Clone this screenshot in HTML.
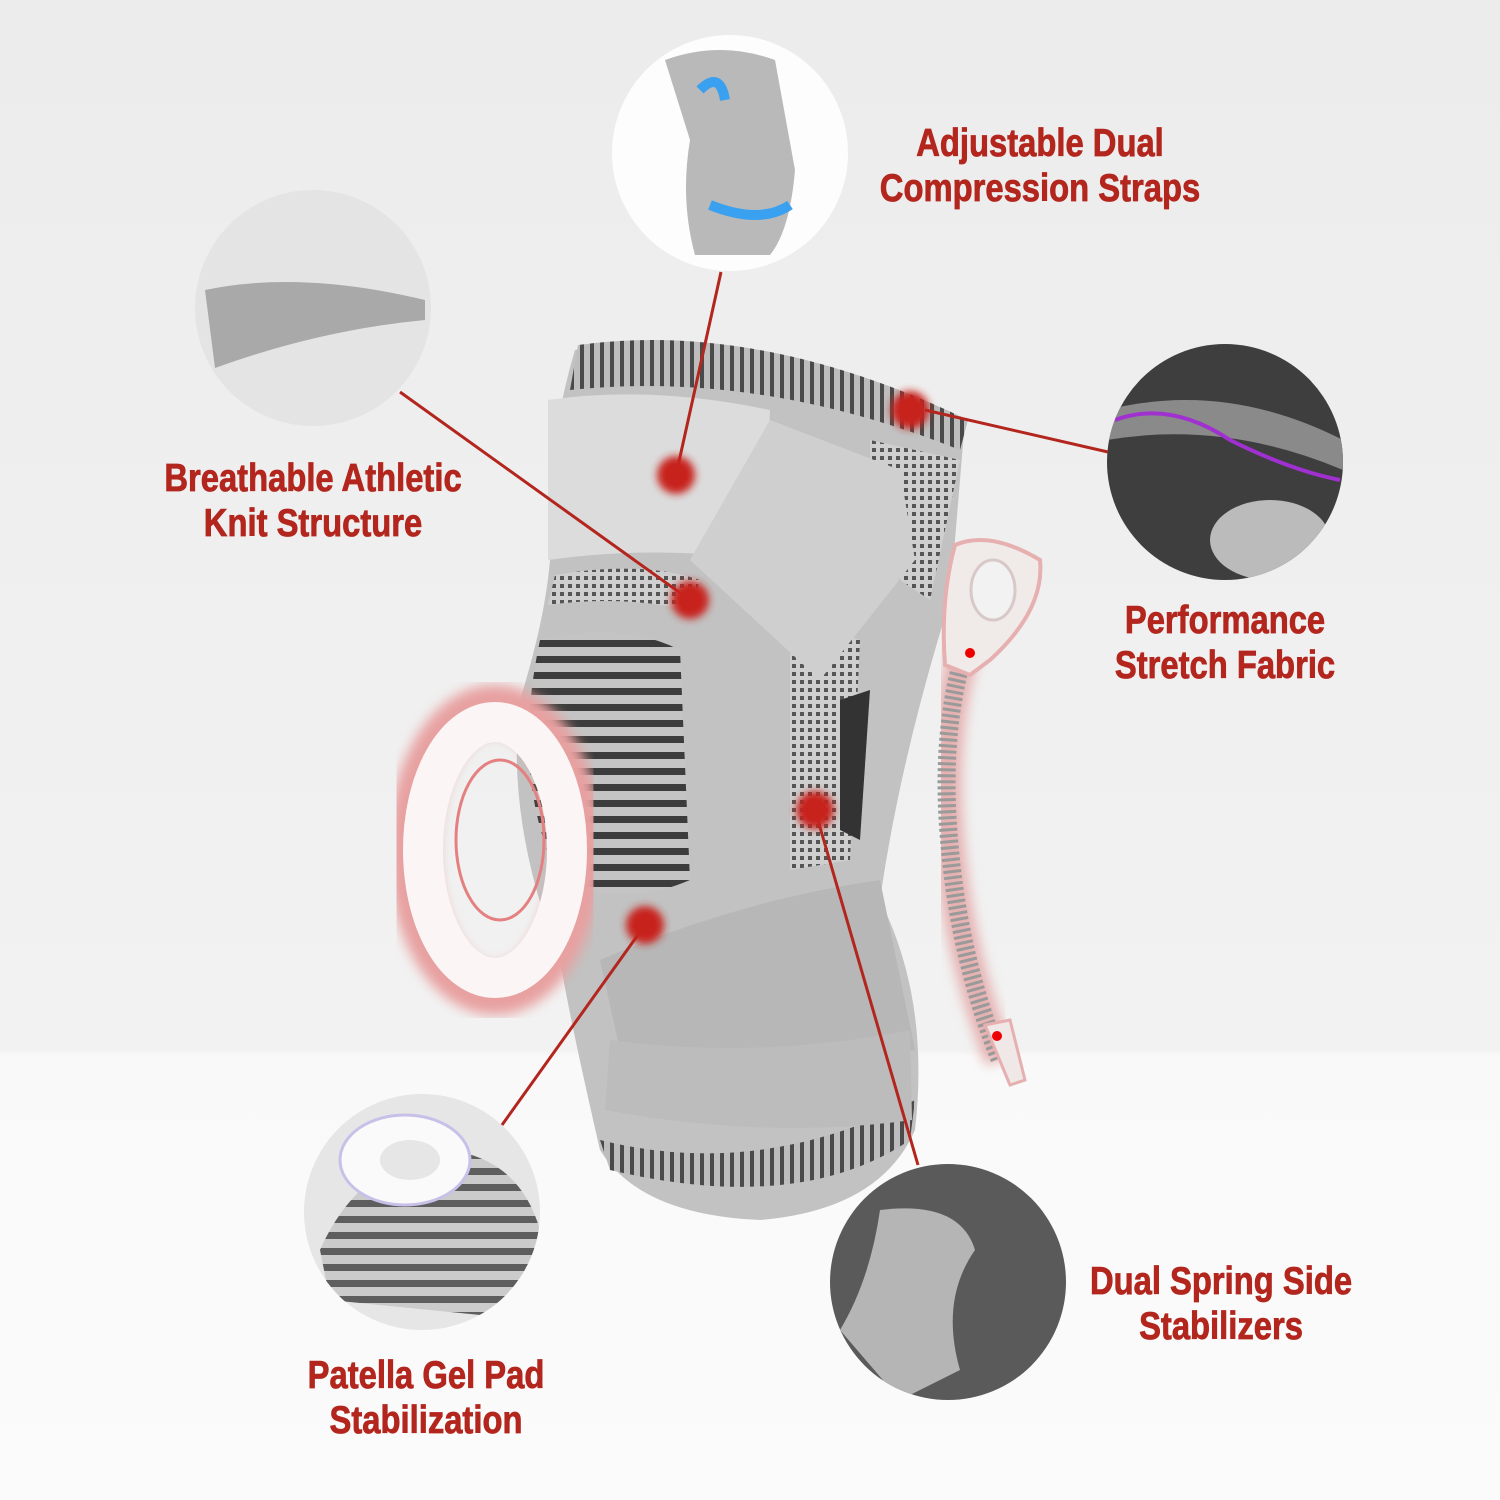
<!DOCTYPE html>
<html><head><meta charset="utf-8"><style>
html,body{margin:0;padding:0;}
body{width:1500px;height:1500px;position:relative;overflow:hidden;background:linear-gradient(#ececec 0,#f2f2f2 1050px,#f9f9f9 1056px,#fbfbfb 1500px);font-family:"Liberation Sans",sans-serif;}
.t{position:absolute;color:#b3261e;font-weight:bold;font-size:39px;line-height:45px;text-align:center;transform:translateX(-50%) scaleX(0.84);white-space:nowrap;-webkit-text-stroke:0.8px #b3261e;}
svg{position:absolute;left:0;top:0;}
</style></head><body>
<svg width="1500" height="1500" viewBox="0 0 1500 1500">
<defs>
<filter id="b"><feGaussianBlur stdDeviation="4"/></filter>
<filter id="g"><feGaussianBlur stdDeviation="6"/></filter>
<pattern id="st" width="10" height="14" patternUnits="userSpaceOnUse"><rect width="10" height="14" fill="#bdbdbd"/><rect width="4" height="14" fill="#4a4a4a"/></pattern>
<pattern id="hz" width="20" height="16" patternUnits="userSpaceOnUse"><rect width="20" height="16" fill="#c4c4c4"/><rect width="20" height="7" fill="#3c3c3c"/></pattern>
<pattern id="ck" width="8" height="8" patternUnits="userSpaceOnUse"><rect width="8" height="8" fill="#cfcfcf"/><rect width="4" height="4" fill="#555"/></pattern>
<clipPath id="c1"><circle cx="730" cy="153" r="118"/></clipPath>
<clipPath id="c2"><circle cx="313" cy="308" r="118"/></clipPath>
<clipPath id="c3"><circle cx="1225" cy="462" r="118"/></clipPath>
<clipPath id="c4"><circle cx="422" cy="1212" r="118"/></clipPath>
<clipPath id="c5"><circle cx="948" cy="1282" r="118"/></clipPath>
</defs>
<path d="M575,350 Q760,320 965,420 L950,600 Q900,760 880,900 Q930,1000 915,1130 Q880,1210 760,1220 Q640,1215 600,1150 Q570,1020 560,960 Q505,820 520,700 Q545,620 550,560 Q545,450 575,350Z" fill="#c2c2c2"/>
<path d="M578,345 Q760,320 968,420 L960,450 Q760,370 570,390Z" fill="url(#st)"/>
<path d="M600,1140 Q760,1180 915,1100 L910,1140 Q800,1215 610,1170Z" fill="url(#st)"/>
<path d="M548,400 Q650,385 770,410 L765,560 Q650,545 548,560Z" fill="#dcdcdc"/>
<path d="M555,575 Q640,560 700,580 L690,610 Q620,595 548,605Z" fill="url(#ck)"/>
<path d="M870,440 L960,460 L930,600 L870,560Z" fill="url(#ck)"/>
<path d="M790,620 L860,640 L850,860 L790,870Z" fill="url(#ck)"/>
<path d="M840,700 L870,690 L860,840 L840,830Z" fill="#333"/>
<path d="M540,640 Q620,620 680,650 L690,880 Q620,910 560,880 Q510,780 540,640Z" fill="url(#hz)"/>
<path d="M690,560 L770,420 L900,470 L915,560 L820,680Z" fill="#cfcfcf"/>
<path d="M600,960 Q740,900 880,880 L915,1050 Q780,1080 620,1050Z" fill="#b7b7b7"/>
<path d="M610,1040 Q760,1060 910,1030 L912,1120 Q770,1140 605,1110Z" fill="#bcbcbc"/>
<ellipse cx="495" cy="850" rx="82" ry="140" fill="none" stroke="#e8a0a0" stroke-width="50" filter="url(#g)"/>
<ellipse cx="495" cy="850" rx="72" ry="128" fill="none" stroke="#fbf5f5" stroke-width="40"/>
<ellipse cx="500" cy="840" rx="44" ry="80" fill="none" stroke="#e48080" stroke-width="3"/>
<path d="M985,600 Q935,700 950,850 Q960,960 1000,1060" fill="none" stroke="#e6b0b0" stroke-width="30" filter="url(#g)"/>
<path d="M985,600 Q935,700 950,850 Q960,960 1000,1060" fill="none" stroke="#9a9a9a" stroke-width="18" stroke-dasharray="3 3"/>
<path d="M955,545 Q990,530 1040,560 Q1045,610 990,660 L970,675 L945,665 Q940,600 955,545Z" fill="#f0ebe8" stroke="#e7b0b0" stroke-width="4"/>
<ellipse cx="993" cy="590" rx="22" ry="30" fill="#f2f2f2" stroke="#d8c8c8" stroke-width="3"/>
<path d="M985,1025 L1010,1020 L1025,1080 L1010,1085Z" fill="#efe8e6" stroke="#e7b0b0" stroke-width="3"/>
<circle cx="970" cy="653" r="5" fill="#e00"/>
<circle cx="997" cy="1036" r="5" fill="#e00"/>
<circle cx="730" cy="153" r="118" fill="#fdfdfd"/>
<g clip-path="url(#c1)">
<path d="M665,60 Q720,40 775,60 L795,170 Q790,230 770,255 L695,255 Q680,200 690,140Z" fill="#b9b9b9"/>
<path d="M700,90 Q720,70 725,100" fill="none" stroke="#3aa0f0" stroke-width="10"/>
<path d="M710,205 Q760,225 790,205" fill="none" stroke="#3aa0f0" stroke-width="10"/>
</g>
<circle cx="313" cy="308" r="118" fill="#e4e4e4"/>
<g clip-path="url(#c2)"><path d="M205,290 Q300,270 425,300 L425,320 Q320,330 215,368Z" fill="#a9a9a9"/></g>
<circle cx="1225" cy="462" r="118" fill="#3e3e3e"/>
<g clip-path="url(#c3)">
<path d="M1107,410 Q1225,380 1343,440 L1343,470 Q1225,420 1107,440Z" fill="#8a8a8a"/>
<path d="M1115,420 Q1170,400 1230,440 Q1290,470 1340,480" fill="none" stroke="#a030d0" stroke-width="4"/>
<ellipse cx="1270" cy="540" rx="60" ry="40" fill="#bbb"/>
</g>
<circle cx="422" cy="1212" r="118" fill="#e6e6e6"/>
<g clip-path="url(#c4)">
<path d="M320,1250 Q360,1160 450,1150 Q520,1160 540,1230 L530,1320 L330,1300Z" fill="url(#hz)" opacity="0.8"/>
<ellipse cx="405" cy="1160" rx="65" ry="45" fill="#fafafa" stroke="#c8c0e8" stroke-width="3"/>
<ellipse cx="410" cy="1160" rx="30" ry="20" fill="#e6e6e6"/>
</g>
<circle cx="948" cy="1282" r="118" fill="#5a5a5a"/>
<g clip-path="url(#c5)"><path d="M880,1210 Q960,1200 975,1250 Q940,1300 960,1370 L900,1400 L840,1330 Q870,1280 880,1210Z" fill="#b5b5b5"/></g>
<g stroke="#b3261e" stroke-width="3" fill="none">
<line x1="721" y1="272" x2="676" y2="475"/>
<line x1="400" y1="392" x2="690" y2="600"/>
<line x1="925" y1="410" x2="1108" y2="452"/>
<line x1="502" y1="1125" x2="645" y2="925"/>
<line x1="815" y1="810" x2="918" y2="1165"/>
</g>
<g fill="#c8231b" filter="url(#b)">
<circle cx="676" cy="475" r="19"/><circle cx="690" cy="600" r="19"/><circle cx="910" cy="410" r="19"/><circle cx="815" cy="810" r="19"/><circle cx="645" cy="925" r="19"/>
</g>
</svg>
<div class="t" style="left:1040px;top:121px">Adjustable Dual<br>Compression Straps</div>
<div class="t" style="left:313px;top:456px">Breathable Athletic<br>Knit Structure</div>
<div class="t" style="left:1225px;top:598px">Performance<br>Stretch Fabric</div>
<div class="t" style="left:1221px;top:1259px">Dual Spring Side<br>Stabilizers</div>
<div class="t" style="left:426px;top:1353px">Patella Gel Pad<br>Stabilization</div>
</body></html>
